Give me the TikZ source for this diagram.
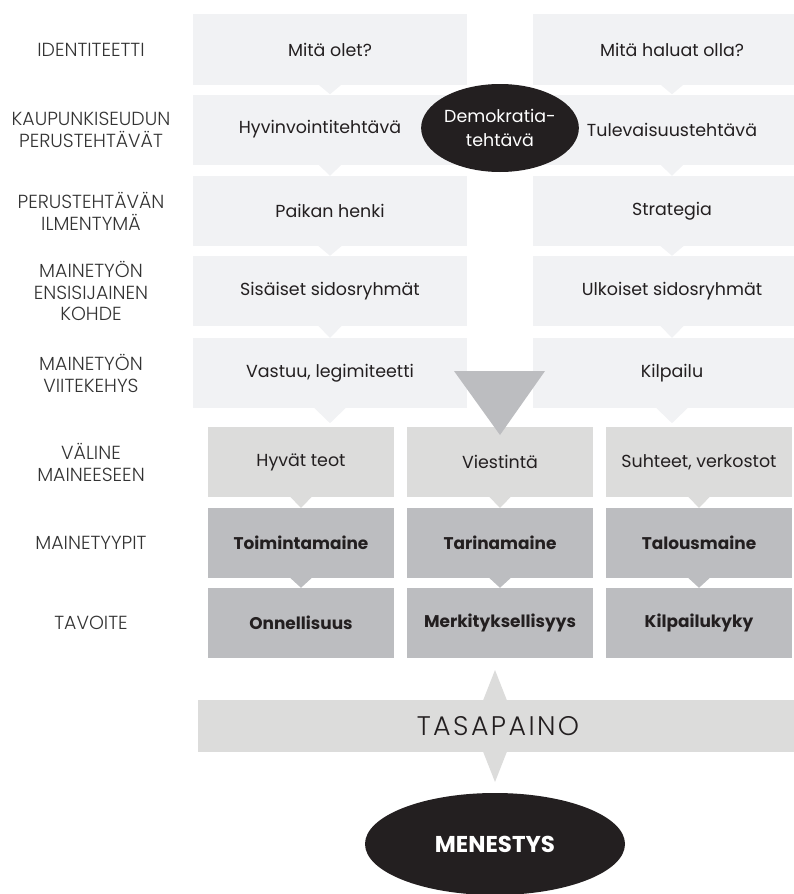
\documentclass[tikz,border=0pt]{standalone}
\usepackage{fontspec}
\setmainfont{Poppins}
\newfontfamily\lightfont{Poppins Light}
\usetikzlibrary{calc,shapes.geometric}
\definecolor{lightbox}{HTML}{F1F2F4}
\definecolor{midbox}{HTML}{DCDCDB}
\definecolor{darkbox}{HTML}{BCBDC0}
\definecolor{ink}{HTML}{231F20}
\definecolor{labelink}{HTML}{333333}
\begin{document}
\begin{tikzpicture}[x=1bp,y=-1bp,
  boxbase/.style={rectangle, draw=none, inner sep=0pt, text=ink, align=center},
  topbox/.style={boxbase, fill=lightbox, minimum width=274bp, minimum height=70bp, font=\fontsize{17.5}{21}\selectfont},
  rtopbox/.style={boxbase, fill=lightbox, minimum width=278bp, minimum height=70bp, font=\fontsize{17.5}{21}\selectfont},
  midrow/.style={boxbase, fill=midbox, minimum width=186bp, minimum height=70bp, font=\fontsize{17.5}{21}\selectfont},
  darkrow/.style={boxbase, fill=darkbox, minimum width=186bp, minimum height=70bp, font=\fontsize{17}{20}\selectfont\bfseries},
  rowlabel/.style={align=center, text=labelink, inner sep=0pt, font=\lightfont\fontsize{19}{22}\selectfont},
  blackoval/.style={ellipse, fill=ink, text=white, inner sep=0pt, align=center}
]
\useasboundingbox (0,0) rectangle (794,894);
\clip (0,0) rectangle (794,894);

% row labels
\node[rowlabel] (lab1) at (91,49.5) {IDENTITEETTI};
\node[rowlabel] (lab2) at (91,129.5) {KAUPUNKISEUDUN\\PERUSTEHTÄVÄT};
\node[rowlabel] (lab3) at (91,211) {PERUSTEHTÄVÄN\\ILMENTYMÄ};
\node[rowlabel] (lab4) at (91,291) {MAINETYÖN\\ENSISIJAINEN\\KOHDE};
\node[rowlabel] (lab5) at (91,373) {MAINETYÖN\\VIITEKEHYS};
\node[rowlabel] (lab6) at (91,462) {VÄLINE\\MAINEESEEN};
\node[rowlabel] (lab7) at (91,543) {MAINETYYPIT};
\node[rowlabel] (lab8) at (91,623) {TAVOITE};

% top two columns
\node[topbox] (L1) at (330,49.5) {Mitä olet?};
\node[topbox] (L2) at (330,129.5) {};
\node[topbox] (L3) at (330,211) {Paikan henki};
\node[topbox] (L4) at (330,291) {Sisäiset sidosryhmät};
\node[topbox] (L5) at (330,373) {Vastuu, legimiteetti};
\node[rtopbox] (R1) at (672,49.5) {Mitä haluat olla?};
\node[rtopbox] (R2) at (672,129.5) {Tulevaisuustehtävä};
\node[rtopbox] (R3) at (672,211) {Strategia};
\node[rtopbox] (R4) at (672,291) {Ulkoiset sidosryhmät};
\node[rtopbox] (R5) at (672,373) {Kilpailu};
\node[text=ink, inner sep=0pt, font=\fontsize{17.5}{21}\selectfont] (L2t) at (320,129.5) {Hyvinvointitehtävä};

% small pointers between top rows
\foreach \a/\b in {L1/L2,L2/L3,L3/L4,L4/L5,R1/R2,R2/R3,R3/R4,R4/R5}{
  \fill[lightbox] ($(\a.south)+(-12,-0.5)$) -- ($(\a.south)+(12,-0.5)$) -- (\b.north) -- cycle;
}
\fill[lightbox] ($(L5.south)+(-16,-0.5)$) -- ($(L5.south)+(16,-0.5)$) -- ($(L5.south)+(0,15)$) -- cycle;
\fill[lightbox] ($(R5.south)+(-16,-0.5)$) -- ($(R5.south)+(16,-0.5)$) -- ($(R5.south)+(0,15)$) -- cycle;

% lower three columns
\node[midrow] (A6) at (301,462) {Hyvät teot};
\node[midrow] (B6) at (500,462) {Viestintä};
\node[midrow] (C6) at (699,462) {Suhteet, verkostot};
\node[darkrow] (A7) at (301,543) {Toimintamaine};
\node[darkrow] (B7) at (500,543) {Tarinamaine};
\node[darkrow] (C7) at (699,543) {Talousmaine};
\node[darkrow] (A8) at (301,623) {Onnellisuus};
\node[darkrow] (B8) at (500,623) {Merkityksellisyys};
\node[darkrow] (C8) at (699,623) {Kilpailukyky};

\foreach \a/\b in {A6/A7,B6/B7,C6/C7}{
  \fill[midbox] ($(\a.south)+(-11,-0.5)$) -- ($(\a.south)+(11,-0.5)$) -- (\b.north) -- cycle;
}
\foreach \a/\b in {A7/A8,B7/B8,C7/C8}{
  \fill[darkbox] ($(\a.south)+(-11,-0.5)$) -- ($(\a.south)+(11,-0.5)$) -- (\b.north) -- cycle;
}

% big central pointer
\coordinate (bigtip) at (500,435);
\fill[darkbox] (454,371) -- (545,371) -- (bigtip) -- cycle;

% Demokratia ellipse
\node[blackoval, minimum width=156bp, minimum height=88bp, font=\fontsize{17.5}{24}\selectfont] (demo) at (500,128) {Demokratia-\\tehtävä};

% balance bar with double arrow
\fill[midbox] (495,670) -- (517,726) -- (495,782) -- (473,726) -- cycle;
\node[rectangle, fill=midbox, inner sep=0pt, minimum width=600bp, minimum height=52bp, text=ink,
      font=\lightfont\fontsize{27}{30}\selectfont\addfontfeature{LetterSpace=9}] (bal) at (498,726) {TASAPAINO};

% success ellipse
\node[blackoval, minimum width=260bp, minimum height=102bp, font=\fontsize{23}{26}\selectfont\bfseries] (men) at (495,844) {MENESTYS};
\end{tikzpicture}
\end{document}
